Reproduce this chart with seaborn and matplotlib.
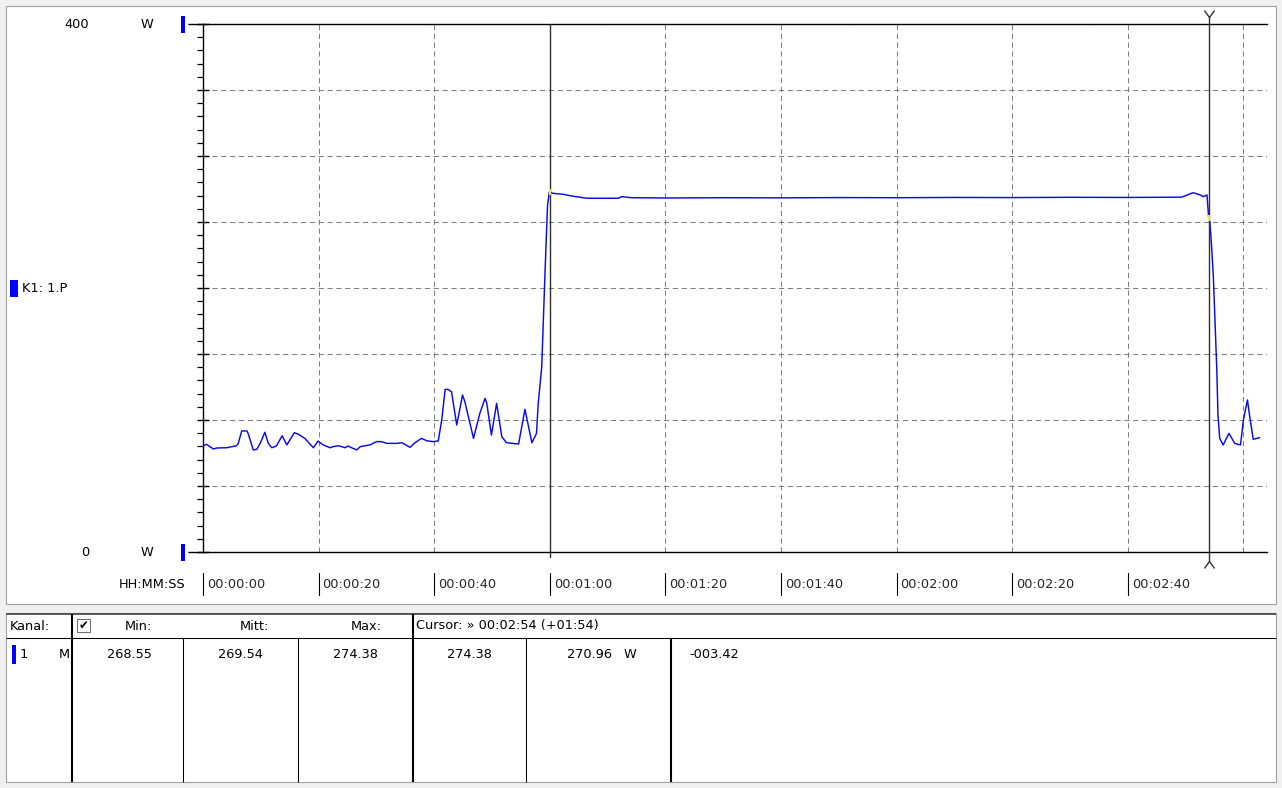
import numpy as np
import matplotlib
matplotlib.use("Agg")
import matplotlib.pyplot as plt
import matplotlib.transforms as mtransforms
from matplotlib.patches import Rectangle
from matplotlib.lines import Line2D
from matplotlib.path import Path
from matplotlib.ticker import MultipleLocator
import seaborn as sns

# ---------------- data ----------------
time_s = [0, 0.6, 1.2, 1.8, 2.4, 4.1, 5.0, 5.8, 6.1, 6.7, 7.6, 7.8, 8.7, 9.3, 9.9,
          10.7, 11.3, 11.9, 12.7, 13.7, 14.5, 15.8, 16.5, 17.6, 19.1, 19.9, 20.8,
          22.0, 22.5, 23.4, 24.0, 24.6, 25.1, 25.7, 26.6, 27.2, 28.0, 28.9, 30.0,
          30.9, 31.8, 33.5, 34.4, 34.9, 35.8, 36.7, 37.8, 38.7, 39.8, 40.7, 41.3,
          41.9, 42.4, 43.0, 43.9, 44.9, 45.3, 46.8, 47.9, 48.8, 49.1, 49.9, 50.8,
          51.7, 52.5, 54.6, 55.7, 56.9, 57.7, 58.0, 58.6, 59.2, 59.6, 59.9, 60.6,
          62.3, 63.8, 66.4, 71.9, 72.4, 74.2, 80, 90, 100, 110, 120, 130, 140, 150,
          160, 169.3, 171.3, 172.5, 173.1, 173.7, 174.0, 174.2, 174.5, 174.8, 175.1,
          175.4, 175.6, 175.9, 176.5, 177.5, 178.5, 179.5, 180.0, 180.7, 181.1,
          181.7, 182.8]
power_w = [80.3, 81.6, 79.8, 78.0, 78.8, 79.0, 79.8, 80.5, 82.3, 91.7, 91.7, 89.9,
           77.3, 77.8, 82.3, 90.7, 82.3, 79.0, 80.3, 88.1, 81.1, 90.4, 89.2, 86.1,
           79.0, 84.0, 81.1, 79.0, 79.8, 80.5, 79.8, 79.0, 80.3, 79.0, 77.3, 79.8,
           80.5, 81.1, 83.6, 83.6, 82.3, 82.3, 82.8, 81.6, 79.3, 82.8, 86.1, 84.3,
           83.6, 84.1, 100.0, 123.2, 123.2, 121.4, 96.2, 118.9, 113.9, 86.1, 105.1,
           116.4, 112.6, 88.6, 112.6, 87.3, 82.8, 81.8, 108.1, 82.8, 89.9, 112.6,
           140.0, 215.0, 262.0, 272.5, 271.7, 271.0, 269.7, 268.0, 268.0, 269.2, 268.4,
           268.2, 268.4, 268.3, 268.5, 268.4, 268.6, 268.5, 268.7, 268.6, 268.8,
           272.2, 270.5, 269.2, 270.5, 252.8, 250.2, 231.3, 208.6, 173.3, 137.9,
           103.8, 86.1, 81.1, 89.9, 82.3, 81.1, 100.0, 115.2, 102.5, 85.4, 86.6]

x_tick_seconds = [0, 20, 40, 60, 80, 100, 120, 140, 160]
x_tick_labels = ["00:00:00", "00:00:20", "00:00:40", "00:01:00", "00:01:20",
                 "00:01:40", "00:02:00", "00:02:20", "00:02:40"]
x_grid_seconds = [0, 20, 40, 60, 80, 100, 120, 140, 160, 180]
y_min_label, y_max_label, y_unit = "0", "400", "W"
x_axis_title = "HH:MM:SS"
channel_label = "K1: 1.P"
cursor_times = [60, 174]

table_header = ["Kanal:", "Min:", "Mitt:", "Max:", "Cursor: \u00bb 00:02:54 (+01:54)"]
row_channel = ["1", "M"]
row_values = ["268.55", "269.54", "274.38", "274.38", "270.96", "-003.42"]
row_unit = "W"

# ---------------- figure ----------------
sns.set_style("white")
plt.rcParams["font.family"] = ["DejaVu Sans"]
FS = 9.3

W, H = 1282, 788
fig = plt.figure(figsize=(W / 100, H / 100), dpi=100, facecolor="#f0f0f0")


def fx(px):
    return px / W


def fy(py):
    return 1 - py / H


def fline(x0, y0, x1, y1, color="black", lw=0.75, z=5):
    fig.add_artist(Line2D([fx(x0), fx(x1)], [fy(y0), fy(y1)], transform=fig.transFigure,
                          color=color, lw=lw, zorder=z, solid_capstyle="butt"))


def frect(x0, y0, x1, y1, fc, ec="none", lw=0.0, z=-1):
    fig.add_artist(Rectangle((fx(x0), fy(y1)), (x1 - x0) / W, (y1 - y0) / H,
                             transform=fig.transFigure, facecolor=fc, edgecolor=ec,
                             lw=lw, zorder=z))


def ftext(x, y, s, ha="left", color="black", size=FS, **kw):
    fig.text(fx(x), fy(y), s, ha=ha, va="center", color=color, fontsize=size,
             zorder=8, **kw)


# panels
frect(5.5, 5.5, 1275.5, 604, "white", ec="#a0a0a0", lw=0.8, z=-2)
frect(5.5, 613, 1275.5, 782, "white", ec="#a0a0a0", lw=0.8, z=-2)

# chart axes (0..400 W, pixel rows 24..552)
ax_left, ax_right, ax_top, ax_bottom = 203, 1267, 24, 552
ax = fig.add_axes([fx(ax_left), fy(ax_bottom), (ax_right - ax_left) / W, (ax_bottom - ax_top) / H])
ax.set_facecolor("white")

sns.lineplot(x=time_s, y=power_w, ax=ax, color="#0a0aee", linewidth=1.05,
             estimator=None, sort=False, zorder=4)

sec_per_px = 20 / 115.6
ax.set_xlim(0, (ax_right - ax_left) * sec_per_px)
ax.set_ylim(0, 400)
ax.set_xlabel("")
ax.set_ylabel("")

ax.set_xticks(x_grid_seconds)
ax.set_xticklabels([])
ax.tick_params(axis="x", length=0, labelbottom=False)
ax.set_yticks(np.arange(0, 401, 50))
ax.yaxis.set_minor_locator(MultipleLocator(10))
ax.set_yticklabels([])
ax.tick_params(axis="y", which="major", left=True, direction="inout", length=9,
               width=1.0, color="black")
ax.tick_params(axis="y", which="minor", left=True, direction="out", length=4.5,
               width=0.9, color="black")

ax.grid(True, which="major", axis="both", color="#808080", linewidth=0.75,
        linestyle=(0, (5, 3.5)))
ax.set_axisbelow(True)

for side in ["left", "top", "bottom"]:
    ax.spines[side].set_visible(True)
    ax.spines[side].set_color("black")
    ax.spines[side].set_linewidth(1.0)
ax.spines["right"].set_visible(False)

# extensions of top/bottom lines to the left
fline(188, ax_top, ax_left, ax_top, lw=1.0)
fline(188, ax_bottom, ax_left, ax_bottom, lw=1.0)

# blue range markers and labels
frect(180.5, 16, 184.5, 33, "#0000ff", z=5)
frect(180.5, 544, 184.5, 561, "#0000ff", z=5)
ftext(89, 24, y_max_label, ha="right")
ftext(147, 24, y_unit, ha="center")
ftext(89, 552, y_min_label, ha="right")
ftext(147, 552, y_unit, ha="center")

frect(10, 280, 18, 297, "#0000ff", z=5)
ftext(22, 289, channel_label)

# x tick labels with bar separators
ftext(186, 585, x_axis_title, ha="right")
trans_bar = mtransforms.blended_transform_factory(ax.transData, ax.transAxes)
bar_lo = (ax_bottom - 595) / (ax_bottom - ax_top)
bar_hi = (ax_bottom - 573) / (ax_bottom - ax_top)
lab_y = (ax_bottom - 585) / (ax_bottom - ax_top)
lab_trans = mtransforms.offset_copy(trans_bar, fig=fig, x=4, y=0, units="dots")
for t, lab in zip(x_tick_seconds, x_tick_labels):
    ax.plot([t, t], [bar_lo, bar_hi], transform=trans_bar, color="black", lw=0.8,
            clip_on=False)
    ax.text(t, lab_y, lab, transform=lab_trans, ha="left", va="center", fontsize=FS)

# cursors
cur_lo = (ax_bottom - 557) / (ax_bottom - ax_top)
ax.plot([cursor_times[0]] * 2, [cur_lo, 1.0], transform=trans_bar, color="#303030",
        lw=1.0, clip_on=False, zorder=6)
ax.plot([cursor_times[1]] * 2, [cur_lo, 1.0], transform=trans_bar, color="#303030",
        lw=1.0, clip_on=False, zorder=6)

y_marker = Path([(-0.55, 0.75), (0, 0), (0.55, 0.75)],
                [Path.MOVETO, Path.LINETO, Path.LINETO])
y_marker_inv = Path([(-0.55, -0.75), (0, 0), (0.55, -0.75)],
                    [Path.MOVETO, Path.LINETO, Path.LINETO])
ax.plot([cursor_times[1]], [(ax_bottom - 17) / (ax_bottom - ax_top)], transform=trans_bar,
        marker=y_marker, markersize=10, mfc="none", mec="#303030", mew=1.0,
        clip_on=False, zorder=6)
ax.plot([cursor_times[1]], [(ax_bottom - 561) / (ax_bottom - ax_top)], transform=trans_bar,
        marker=y_marker_inv, markersize=10, mfc="none", mec="#303030", mew=1.0,
        clip_on=False, zorder=6)
ax.plot([cursor_times[1]] * 2, [1.0, (ax_bottom - 17) / (ax_bottom - ax_top)],
        transform=trans_bar, color="#303030", lw=1.0, clip_on=False, zorder=6)
ax.plot([cursor_times[1]] * 2, [cur_lo, (ax_bottom - 561) / (ax_bottom - ax_top)],
        transform=trans_bar, color="#303030", lw=1.0, clip_on=False, zorder=6)
for t in cursor_times:
    yv = np.interp(t, time_s, power_w)
    ax.plot([t], [yv], marker="|", markersize=5, color="#e8e840", mew=1.5, zorder=7)

# ---------------- table ----------------
fline(5.5, 613.5, 1275.5, 613.5, color="#404040", lw=1.2)
fline(5.5, 638, 1275.5, 638, color="black", lw=0.75)
for xc in [72, 413]:
    fline(xc, 613.5, xc, 782, color="black", lw=1.5)
for xc in [183, 298, 526]:
    fline(xc, 638, xc, 782, color="black", lw=0.75)
fline(671, 638, 671, 782, color="black", lw=1.5)

# header
ftext(10, 626, table_header[0])
frect(77, 619, 90, 632, "white", ec="#707070", lw=0.8, z=5)
ftext(83.5, 625.5, "\u2714", ha="center", size=8.5)
ftext(138, 626, table_header[1], ha="center")
ftext(254, 626, table_header[2], ha="center")
ftext(366, 626, table_header[3], ha="center")
ftext(416, 626, table_header[4])

# row 1
frect(12, 645, 15.5, 664, "#0000ff", z=5)
ftext(20, 655, row_channel[0])
ftext(64, 655, row_channel[1], ha="center")
ftext(129, 655, row_values[0], ha="center")
ftext(240, 655, row_values[1], ha="center")
ftext(355, 655, row_values[2], ha="center")
ftext(469, 655, row_values[3], ha="center")
ftext(590, 655, row_values[4], ha="center")
ftext(630, 655, row_unit, ha="center")
ftext(689, 655, row_values[5])

fig.savefig("out.png", dpi=100, facecolor=fig.get_facecolor())
